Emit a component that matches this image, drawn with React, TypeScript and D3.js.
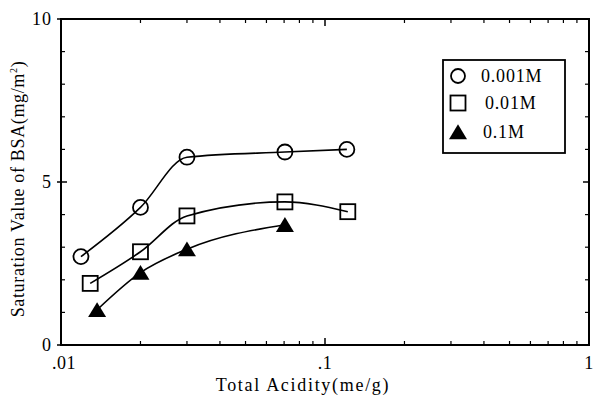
import React from "react";
import * as d3 from "d3";

const seriesNames = ["0.001M", "0.01M", "0.1M"];
const circleX = [0.0119, 0.02, 0.03, 0.0705, 0.121];
const circleY = [2.71, 4.22, 5.76, 5.92, 6.0];
const squareX = [0.0129, 0.02, 0.03, 0.0705, 0.122];
const squareY = [1.89, 2.86, 3.96, 4.39, 4.09];
const triangleX = [0.0137, 0.02, 0.03, 0.0705];
const triangleY = [1.08, 2.22, 2.94, 3.69];
const xTickValues = [0.01, 0.1, 1];
const xTickLabels = [".01", ".1", "1"];
const yTickValues = [0, 5, 10];
const yTickLabels = ["0", "5", "10"];

const W = 596, H = 396;
const L = 61, R = 589, T = 19, B = 345;
const FONT = "Liberation Serif, Times New Roman, serif";

export default function App() {
  const x = d3.scaleLog().domain([0.01, 1]).range([L, R]);
  const y = d3.scaleLinear().domain([0, 10]).range([B, T]);
  const line = d3
    .line<[number, number]>()
    .x((d) => x(d[0]))
    .y((d) => y(d[1]))
    .curve(d3.curveMonotoneX);

  const zip = (xs: number[], ys: number[]) => xs.map((v, i) => [v, ys[i]] as [number, number]);
  const circ = zip(circleX, circleY);
  const sq = zip(squareX, squareY);
  const tri = zip(triangleX, triangleY);

  const minorX: number[] = [];
  for (const dec of [0.01, 0.1]) for (let k = 2; k <= 9; k++) minorX.push(dec * k);
  const minorY = d3.range(1, 10).filter((v) => v !== 5);

  const triPath = (cx: number, cy: number, s = 9) =>
    `M${cx},${cy - s * 0.85}L${cx + s},${cy + s * 0.8}L${cx - s},${cy + s * 0.8}Z`;

  const legX = 458;
  const legRows = [76, 103, 132];

  return (
    <svg width={W} height={H} style={{ position: "absolute", left: 0, top: 0, background: "#fff" }}>
      <rect x={0} y={0} width={W} height={H} fill="#fff" />
      {/* frame */}
      <rect x={L} y={T} width={R - L} height={B - T} fill="none" stroke="#000" strokeWidth={2} />
      {/* x ticks */}
      {minorX.map((v, i) => (
        <g key={"mx" + i}>
          <line x1={x(v)} x2={x(v)} y1={B} y2={B - 4} stroke="#000" strokeWidth={1.2} />
          <line x1={x(v)} x2={x(v)} y1={T} y2={T + 4} stroke="#000" strokeWidth={1.2} />
        </g>
      ))}
      {xTickValues.map((v, i) => (
        <g key={"Mx" + i}>
          <line x1={x(v)} x2={x(v)} y1={B} y2={B - 7} stroke="#000" strokeWidth={1.5} />
          <line x1={x(v)} x2={x(v)} y1={T} y2={T + 7} stroke="#000" strokeWidth={1.5} />
          <text x={x(v) + (i === 0 ? 3 : 0)} y={369} textAnchor="middle" fontFamily={FONT} fontSize={18} letterSpacing={0.5}>
            {xTickLabels[i]}
          </text>
        </g>
      ))}
      {/* y ticks */}
      {minorY.map((v, i) => (
        <g key={"my" + i}>
          <line x1={L} x2={L + 4} y1={y(v)} y2={y(v)} stroke="#000" strokeWidth={1.2} />
          <line x1={R} x2={R - 4} y1={y(v)} y2={y(v)} stroke="#000" strokeWidth={1.2} />
        </g>
      ))}
      {yTickValues.map((v, i) => (
        <g key={"My" + i}>
          <line x1={L - 4} x2={L + 6} y1={y(v)} y2={y(v)} stroke="#000" strokeWidth={1.5} />
          <line x1={R} x2={R - 6} y1={y(v)} y2={y(v)} stroke="#000" strokeWidth={1.5} />
          <text x={52} y={y(v) + 6} textAnchor="end" fontFamily={FONT} fontSize={18} letterSpacing={1}>
            {yTickLabels[i]}
          </text>
        </g>
      ))}
      {/* axis titles */}
      <text x={303} y={391} textAnchor="middle" fontFamily={FONT} fontSize={18} letterSpacing={1.7}>
        Total Acidity(me/g)
      </text>
      <text
        transform="translate(24,189) rotate(-90)"
        textAnchor="middle"
        fontFamily={FONT}
        fontSize={18}
        letterSpacing={0.65}
      >
        Saturation Value of BSA(mg/m
        <tspan fontSize={10} dy={-7}>2</tspan>
        <tspan dy={7}>)</tspan>
      </text>
      {/* lines */}
      <path d={line(circ) || ""} fill="none" stroke="#000" strokeWidth={1.6} />
      <path d={line(sq) || ""} fill="none" stroke="#000" strokeWidth={1.6} />
      <path d={line(tri) || ""} fill="none" stroke="#000" strokeWidth={1.6} />
      {/* markers */}
      {circ.map((d, i) => (
        <circle key={"c" + i} cx={x(d[0])} cy={y(d[1])} r={7.5} fill="none" stroke="#000" strokeWidth={1.8} />
      ))}
      {sq.map((d, i) => (
        <rect key={"s" + i} x={x(d[0]) - 7.5} y={y(d[1]) - 7.5} width={15} height={15} fill="none" stroke="#000" strokeWidth={1.8} />
      ))}
      {tri.map((d, i) => (
        <path key={"t" + i} d={triPath(x(d[0]), y(d[1]))} fill="#000" />
      ))}
      {/* legend */}
      <rect x={443} y={60} width={122} height={93} fill="#fff" stroke="#000" strokeWidth={1.8} />
      <circle cx={legX} cy={legRows[0]} r={7} fill="none" stroke="#000" strokeWidth={1.8} />
      <rect x={legX - 7.5} y={legRows[1] - 7.5} width={15} height={15} fill="none" stroke="#000" strokeWidth={1.8} />
      <path d={triPath(legX, legRows[2])} fill="#000" />
      {seriesNames.map((n, i) => (
        <text key={"l" + i} x={[481, 485, 483][i]} y={legRows[i] + 6} fontFamily={FONT} fontSize={18} letterSpacing={0.8}>
          {n}
        </text>
      ))}
    </svg>
  );
}
